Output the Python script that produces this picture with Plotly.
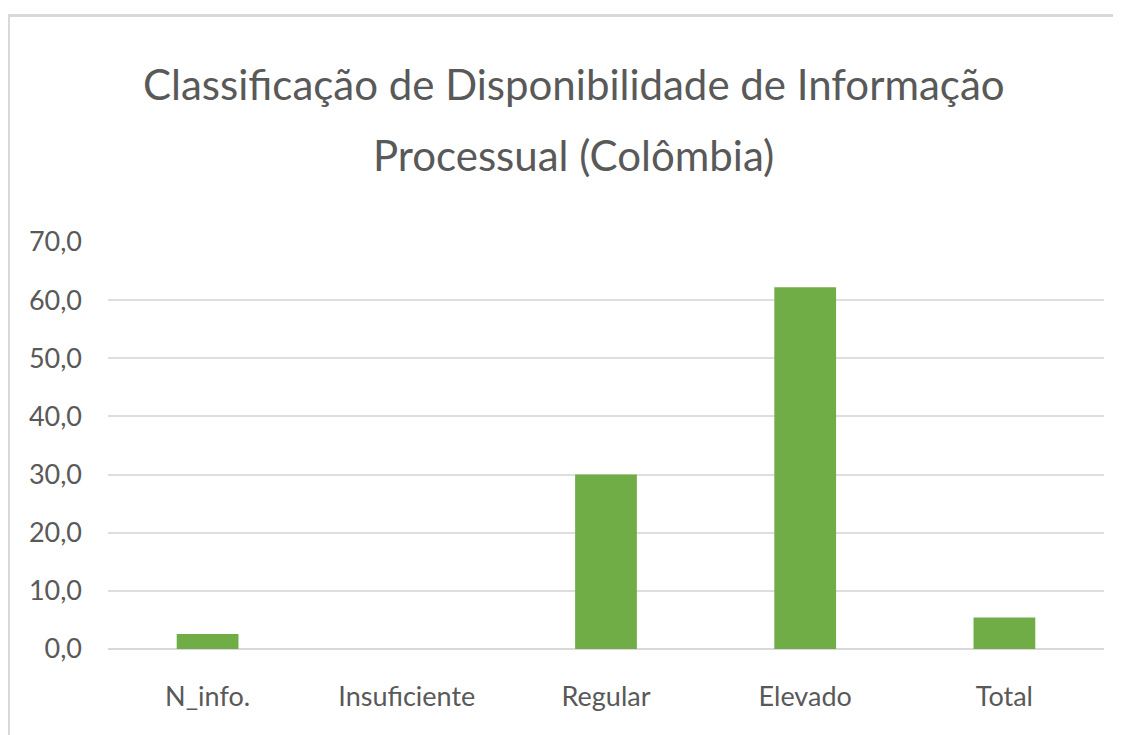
import plotly.graph_objects as go

categories = ["N_info.", "Insuficiente", "Regular", "Elevado", "Total"]
values = [2.6, 0.0, 30.0, 62.2, 5.4]
tick_vals = [0, 10, 20, 30, 40, 50, 60, 70]
title_lines = ["Classificação de Disponibilidade de Informação", "Processual (Colômbia)"]

FONT = "Lato, Liberation Sans, sans-serif"
TXT = "#595959"

fig = go.Figure(go.Bar(
    x=categories, y=values,
    marker=dict(color="#70ad47", line=dict(width=0)),
    width=0.31,
))

# page body has an 8px margin, so the figure starts at (8, 8) on screen
W, H = 1113, 727
L, R, T, B = 100, 17, 234, 86
pw = W - L - R
ph = H - T - B

def px_to_paper_x(x):
    return (x - 8 - L) / pw

def px_to_paper_y(y):
    return (H - B - (y - 8)) / ph

annotations = [
    dict(text=title_lines[0], x=px_to_paper_x(574), y=px_to_paper_y(84),
         xref="paper", yref="paper", xanchor="center", yanchor="middle",
         showarrow=False, font=dict(family=FONT, size=42, color=TXT)),
    dict(text=title_lines[1], x=px_to_paper_x(573), y=px_to_paper_y(155),
         xref="paper", yref="paper", xanchor="center", yanchor="middle",
         showarrow=False, font=dict(family=FONT, size=42, color=TXT)),
]

fig.update_layout(
    width=W, height=H,
    margin=dict(l=L, r=R, t=T, b=B, autoexpand=False),
    paper_bgcolor="white", plot_bgcolor="white",
    separators=",.",
    showlegend=False,
    annotations=annotations,
    xaxis=dict(
        tickfont=dict(family=FONT, size=27, color=TXT),
        showline=False, showgrid=False, ticks="", automargin=False,
        ticklabelstandoff=29,
    ),
    yaxis=dict(
        range=[0, 70], tickvals=tick_vals, tickformat=".1f",
        tickfont=dict(family=FONT, size=27, color=TXT),
        showgrid=True, gridcolor="#dedede", gridwidth=1.5,
        zeroline=True, zerolinecolor="#d9d9d9", zerolinewidth=1.5,
        showline=False, ticks="", ticklabelstandoff=25, automargin=False,
    ),
    shapes=[
        dict(type="rect", xref="paper", yref="paper",
             x0=px_to_paper_x(8.5), x1=px_to_paper_x(1150),
             y0=-0.5, y1=px_to_paper_y(15.5),
             line=dict(color="#d9d9d9", width=3), fillcolor="rgba(0,0,0,0)",
             layer="below"),
    ],
)

fig.write_html("out.html")
